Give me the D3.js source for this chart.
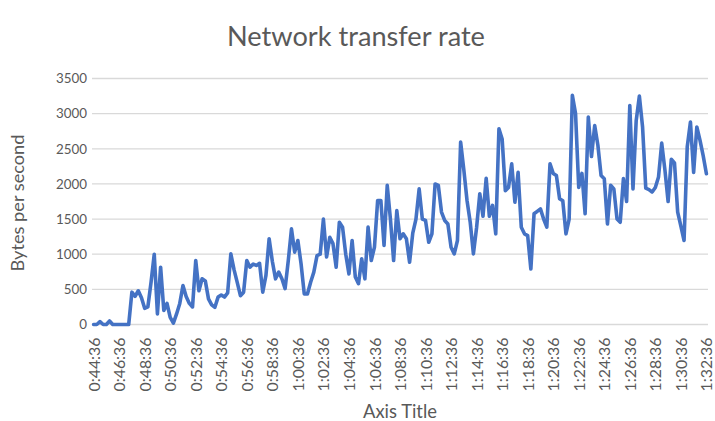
<!DOCTYPE html>
<html><head><meta charset="utf-8">
<script src="https://cdn.jsdelivr.net/npm/d3@7"></script>
<style>
body{margin:0;background:#fff}
text{font-family:Lato,"Open Sans",sans-serif}
</style>
</head><body>
<svg id="c" width="715" height="421"></svg>
<script>
const title = "Network transfer rate";
const yAxisTitle = "Bytes per second";
const xAxisTitle = "Axis Title";
const startSeconds = 44 * 60 + 36;   // 0:44:36
const stepSeconds = 15;
const rates = [
  0,0,40,0,0,50,0,0,0,0,0,0,
  460,400,480,380,230,250,600,1000,
  150,815,200,300,100,20,150,300,555,400,
  300,250,910,480,650,620,365,280,245,390,
  420,390,450,1005,780,600,410,460,910,815,
  860,840,870,460,700,1220,900,650,745,650,
  510,910,1360,1030,1195,865,435,435,600,745,
  980,1000,1500,960,1240,1150,815,1455,1385,1000,
  720,1195,675,580,935,650,1385,910,1100,1765,
  1765,1125,1980,1500,910,1620,1220,1290,1220,885,
  1300,1500,1930,1500,1480,1170,1290,2000,1980,1600,
  1480,1430,1100,1005,1195,2595,2200,1765,1455,1005,
  1380,1860,1540,2080,1540,1695,1290,2785,2640,1905,
  1950,2285,1740,2165,1385,1290,1265,790,1575,1610,
  1645,1500,1385,2285,2150,2120,1790,1760,1290,1500,
  3260,3000,1950,2150,1575,2950,2390,2830,2550,2120,
  2075,1430,1980,1930,1500,1455,2075,1750,3115,1930,
  2900,3250,2810,1940,1920,1885,1950,2100,2580,2200,
  1750,2350,2300,1600,1400,1195,2530,2880,2165,2810,
  2620,2400,2145
];
const yTicks = [0,500,1000,1500,2000,2500,3000,3500];
const xTickLabels = ["0:44:36","0:46:36","0:48:36","0:50:36","0:52:36","0:54:36","0:56:36","0:58:36",
  "1:00:36","1:02:36","1:04:36","1:06:36","1:08:36","1:10:36","1:12:36","1:14:36","1:16:36",
  "1:18:36","1:20:36","1:22:36","1:24:36","1:26:36","1:28:36","1:30:36","1:32:36"];

function fmtTime(sec){
  const h = Math.floor(sec/3600), m = Math.floor(sec%3600/60), s = sec%60;
  return h + ":" + String(m).padStart(2,"0") + ":" + String(s).padStart(2,"0");
}
const categories = rates.map((_, i) => fmtTime(startSeconds + i*stepSeconds));

const svg = d3.select("#c");
const L = 92, R = 708, T = 78.5, B = 324.5;
const grey = "#595959";

const x = d3.scalePoint().domain(categories).range([L, R]).padding(0.5);
const y = d3.scaleLinear().domain([0, 3500]).range([B, T]);

function fitAll(sel, target){
  const n = sel.node();
  const w = n.getComputedTextLength();
  const fs = parseFloat(d3.select(n).attr("font-size"));
  sel.attr("font-size", fs * target / w);
}

// gridlines
svg.append("g").selectAll("line").data(yTicks).join("line")
  .attr("x1", L).attr("x2", R)
  .attr("y1", d => y(d)).attr("y2", d => y(d))
  .attr("stroke", "#d9d9d9").attr("stroke-width", 1.3);

// y axis
const ya = svg.append("g").attr("transform", `translate(${L},0)`)
  .call(d3.axisLeft(y).tickValues(yTicks).tickSize(0).tickPadding(5).tickFormat(d3.format("d")));
ya.select(".domain").remove();
ya.selectAll("text").attr("fill", grey).attr("font-size", 14).attr("font-family", null);
fitAll(ya.selectAll("text").filter(d => d === 3500), 31);
ya.selectAll("text").attr("font-size", ya.selectAll("text").filter(d => d === 3500).attr("font-size"));

// x axis
const xa = svg.append("g").attr("transform", `translate(0,${B})`)
  .call(d3.axisBottom(x).tickValues(xTickLabels).tickSize(0));
xa.select(".domain").remove();
xa.selectAll("text")
  .attr("transform", "rotate(-90)")
  .attr("text-anchor", "end")
  .attr("x", -13).attr("y", 0).attr("dy", "0.35em")
  .attr("fill", grey).attr("font-size", 13).attr("font-family", null);
{
  const first = xa.selectAll("text").filter((d,i) => i === 0);
  fitAll(first, 54);
  xa.selectAll("text").attr("font-size", first.attr("font-size"));
}

// line
svg.append("path").datum(rates)
  .attr("fill", "none").attr("stroke", "#4472C4").attr("stroke-width", 3.6)
  .attr("stroke-linejoin", "round").attr("stroke-linecap", "round")
  .attr("d", d3.line().x((d, i) => x(categories[i])).y(d => y(d)));

// titles
const t = svg.append("text").attr("x", 356).attr("y", 46).attr("text-anchor", "middle")
  .attr("fill", grey).attr("font-size", 22).text(title);
fitAll(t, 258);

const yt = svg.append("text").attr("transform", "translate(24,203) rotate(-90)")
  .attr("text-anchor", "middle").attr("fill", grey).attr("font-size", 14).text(yAxisTitle);
fitAll(yt, 137);

const xt = svg.append("text").attr("x", 400).attr("y", 418).attr("text-anchor", "middle")
  .attr("fill", grey).attr("font-size", 14).text(xAxisTitle);
fitAll(xt, 74);
</script>
</body></html>
